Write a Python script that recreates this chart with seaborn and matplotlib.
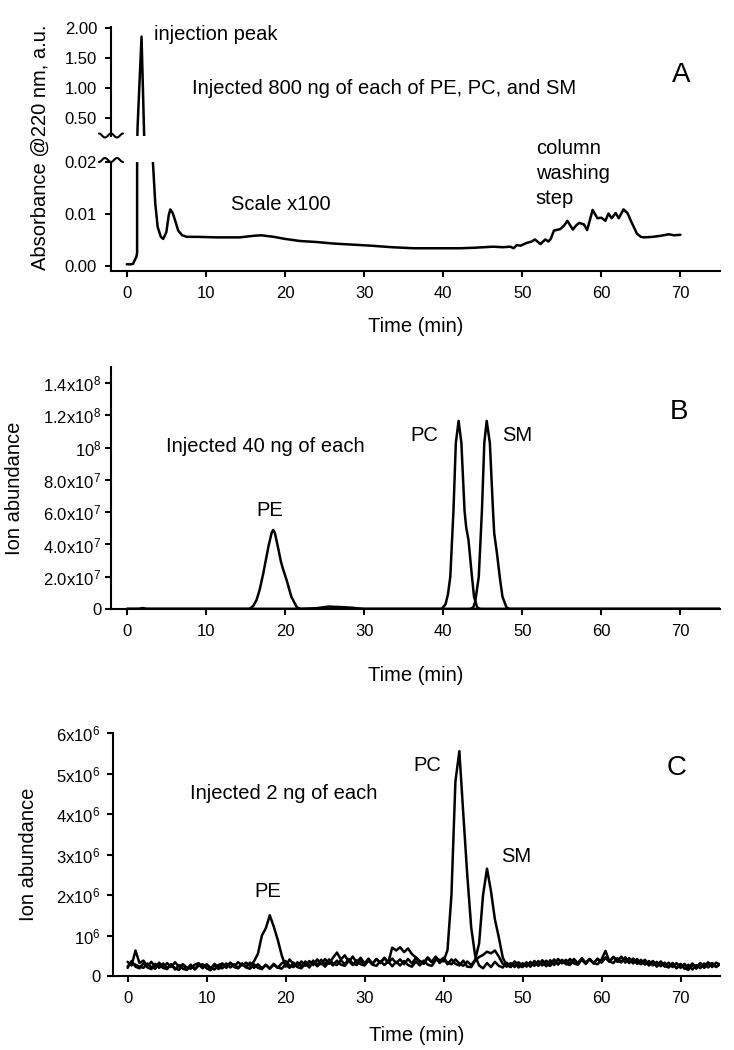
import numpy as np
import matplotlib
matplotlib.use("Agg")
import matplotlib.pyplot as plt
from matplotlib.lines import Line2D
import seaborn as sns

# ---------------- data ----------------
# Panel A: UV trace at 220 nm, 800 ng injection (time in min, absorbance a.u.)
uv_time = [0.0, 0.5, 0.8, 1.0, 1.2, 1.3, 1.36, 1.86, 2.2, 2.8, 3.3, 3.6, 3.9, 4.3, 4.6,
           5.0, 5.3, 5.5, 5.8, 6.1, 6.5, 7.0, 7.6, 9.0, 11.4, 14.3, 16.0, 17.0, 18.6,
           20.0, 21.9, 24.0, 26.2, 28.5, 30.8, 33.5, 36.2, 40.0, 42.2, 44.0, 46.3,
           47.5, 48.5, 48.9, 49.3, 49.8, 50.5, 51.2, 51.6, 52.0, 52.3, 52.9, 53.3,
           53.6, 54.0, 54.8, 55.3, 55.7, 56.4, 56.8, 57.2, 57.8, 58.2, 58.9, 59.5,
           60.0, 60.5, 60.9, 61.3, 61.8, 62.2, 62.8, 63.3, 63.7, 64.1, 64.5, 65.0,
           65.4, 66.5, 67.5, 68.5, 69.2, 70.0]
uv_abs = [0.0003, 0.0003, 0.0004, 0.0011, 0.0017, 0.0025, 0.35, 1.86, 0.17, 0.06,
          0.02, 0.012, 0.0075, 0.0056, 0.0052, 0.0065, 0.0098, 0.0109, 0.0102, 0.0088,
          0.0068, 0.0059, 0.0056, 0.0056, 0.0055, 0.0055, 0.0058, 0.0059, 0.0056,
          0.0052, 0.0048, 0.0046, 0.0043, 0.0041, 0.0039, 0.0036, 0.0034, 0.0034,
          0.0034, 0.0035, 0.0037, 0.0036, 0.0037, 0.0034, 0.0040, 0.0039, 0.0044,
          0.0047, 0.0051, 0.0046, 0.0042, 0.0051, 0.0047, 0.0052, 0.0068, 0.0071,
          0.0078, 0.0087, 0.0070, 0.0078, 0.0083, 0.0080, 0.0069, 0.0108, 0.0092,
          0.0093, 0.0087, 0.0101, 0.0092, 0.0102, 0.0092, 0.0109, 0.0102, 0.0088,
          0.0075, 0.0062, 0.0056, 0.0055, 0.0056, 0.0058, 0.0061, 0.0059, 0.0060]

# Panel B: 40 ng injection, ion traces (ion abundance in units of 1e7)
b_pe_time = [0, 1.5, 2.0, 2.5, 15.5, 16.0, 16.4, 16.8, 17.25, 17.9, 18.3, 18.5, 18.7,
             19.1, 19.5, 19.8, 20.2, 20.8, 21.5, 22.0, 24.0, 25.5, 27.0, 28.5, 30.0, 75]
b_pe_ion = [0, 0, 0.06, 0, 0, 0.2, 0.56, 1.2, 2.2, 3.86, 4.7, 4.9, 4.75,
            3.86, 2.9, 2.4, 1.8, 0.76, 0.1, 0, 0.05, 0.15, 0.12, 0.08, 0, 0]
b_pc_time = [0, 39.8, 40.3, 40.6, 40.9, 41.3, 41.6, 41.95, 42.3, 42.7, 42.9, 43.2,
             43.6, 43.9, 44.3, 44.7, 75]
b_pc_ion = [0, 0, 0.3, 0.9, 2.0, 6.1, 10.3, 11.66, 10.3, 6.1, 5.1, 4.27,
            2.2, 0.76, 0.1, 0, 0]
b_sm_time = [0, 43.4, 43.8, 44.05, 44.5, 44.9, 45.2, 45.5, 45.9, 46.3, 46.45, 46.8,
             47.2, 47.5, 48.0, 48.4, 75]
b_sm_ion = [0, 0, 0.1, 0.45, 2.0, 6.1, 10.3, 11.66, 10.3, 6.1, 4.7, 3.45,
            1.8, 0.76, 0.1, 0, 0]

# Panel C: 2 ng injection, sampled every 0.5 min (ion abundance in units of 1e5)
c_time = np.arange(0, 75.5, 0.5)
c_pe_ion = [3.5, 2.6, 6.3, 3.2, 3.8, 2.4, 3.5, 2.2, 3.3, 2.0,
            3.2, 2.2, 3.4, 2.3, 2.9, 2.1, 1.8, 2.8, 3.2, 2.1,
            2.9, 2.0, 1.6, 2.7, 3.1, 2.3, 3.3, 2.4, 3.4, 2.6,
            3.3, 2.5, 3.6, 5.5, 10.0, 11.8, 15.0, 12.2, 9.0, 5.2,
            2.3, 4.1, 2.9, 2.3, 3.6, 2.5, 3.7, 2.7, 4.1, 2.9,
            4.2, 3.0, 4.5, 5.8, 4.1, 5.1, 3.5, 4.8, 3.3, 4.5,
            3.1, 4.3, 3.0, 4.2, 3.2, 4.4, 3.3, 4.3, 3.2, 4.1,
            2.9, 4.2, 3.1, 4.5, 3.3, 3.0, 4.4, 3.4, 4.6, 3.2,
            4.2, 2.9, 4.1, 3.0, 2.6, 3.8, 2.3, 2.2, 3.8, 4.7,
            5.2, 6.0, 5.6, 6.3, 4.8, 3.0, 2.3, 3.2, 2.2, 3.4,
            2.4, 3.2, 2.3, 3.5, 2.5, 3.6, 2.4, 3.9, 2.7, 4.2,
            3.1, 4.0, 2.9, 4.2, 3.2, 4.4, 3.3, 4.2, 3.1, 4.3,
            3.4, 4.6, 3.6, 4.7, 3.5, 4.8, 3.3, 4.4, 3.1, 4.2,
            2.9, 3.9, 2.7, 3.7, 2.5, 3.6, 2.3, 3.3, 2.2, 3.2,
            2.0, 3.0, 1.9, 3.1, 2.1, 3.2, 2.3, 3.4, 2.2, 3.3,
            2.8]
c_pc_ion = [2.4, 3.2, 2.8, 2.3, 2.0, 3.1, 2.2, 1.8, 3.0, 2.0,
            1.7, 2.9, 1.9, 1.5, 2.7, 1.7, 2.8, 1.6, 2.6, 2.9,
            1.9, 1.4, 2.7, 1.7, 2.9, 2.0, 3.2, 2.2, 1.9, 3.0,
            2.1, 1.8, 2.9, 2.0, 1.7, 2.8, 1.9, 3.0, 2.1, 1.8,
            2.9, 2.0, 3.3, 2.2, 1.9, 3.1, 2.1, 3.5, 2.4, 3.3,
            2.3, 3.6, 2.6, 3.8, 2.8, 2.5, 3.7, 2.7, 3.9, 2.9,
            2.6, 3.8, 2.8, 2.5, 3.7, 2.7, 3.6, 2.4, 3.5, 2.6,
            3.7, 2.7, 2.3, 3.6, 2.6, 3.8, 2.8, 2.5, 3.9, 4.0,
            3.6, 6.4, 20.0, 48.0, 55.5, 40.0, 25.0, 12.0, 5.0, 2.6,
            1.9, 3.2, 2.2, 3.5, 2.5, 2.1, 3.3, 2.3, 3.6, 2.6,
            2.2, 3.4, 2.4, 3.7, 2.7, 3.9, 2.9, 2.5, 3.8, 2.8,
            4.0, 3.0, 2.7, 3.9, 2.9, 4.1, 3.1, 4.2, 3.2, 2.9,
            4.1, 6.2, 3.6, 3.2, 4.4, 3.4, 4.5, 3.3, 4.2, 3.0,
            4.0, 2.8, 3.7, 2.6, 3.5, 2.4, 3.3, 2.2, 3.1, 2.0,
            2.9, 1.8, 2.8, 1.6, 2.7, 1.9, 3.1, 2.1, 3.2, 2.3,
            3.0]
c_sm_ion = [2.0, 3.7, 2.3, 1.9, 3.2, 2.1, 1.7, 3.0, 2.0, 3.1,
            1.9, 2.9, 1.6, 2.7, 1.8, 1.5, 2.6, 1.7, 2.8, 1.9,
            2.8, 1.8, 3.0, 2.1, 1.9, 3.1, 2.1, 2.9, 2.0, 3.1,
            2.2, 3.3, 2.0, 2.9, 1.9, 2.7, 1.8, 2.8, 2.0, 3.1,
            3.7, 2.6, 2.2, 3.4, 2.4, 3.6, 2.6, 3.8, 2.7, 4.0,
            2.9, 4.1, 3.1, 2.7, 3.9, 2.9, 4.2, 3.1, 2.7, 3.8,
            2.8, 4.0, 3.0, 4.2, 3.2, 4.5, 3.3, 7.0, 6.3, 7.1,
            5.9, 6.8, 5.4, 4.6, 3.7, 3.3, 4.6, 3.5, 4.8, 3.6,
            4.5, 3.3, 2.9, 4.1, 3.1, 2.5, 3.6, 2.7, 4.0, 8.0,
            20.0, 26.5, 21.0, 14.0, 9.5, 4.5, 2.7, 2.2, 3.3, 2.1,
            3.2, 2.3, 3.5, 2.5, 3.7, 2.6, 3.8, 2.8, 4.1, 3.0,
            3.9, 2.9, 4.2, 3.1, 2.8, 4.0, 3.0, 4.1, 3.2, 4.2,
            3.3, 4.5, 3.5, 4.7, 3.7, 3.4, 4.6, 3.2, 4.3, 3.3,
            3.0, 4.0, 2.6, 3.6, 2.3, 3.4, 2.5, 2.1, 3.2, 1.9,
            3.0, 2.0, 1.5, 2.8, 1.8, 3.0, 2.0, 2.9, 3.1, 2.2,
            2.9]

time_ticks = [0, 10, 20, 30, 40, 50, 60, 70]
a_top_ticks = [0.5, 1.0, 1.5, 2.0]
a_top_labels = ["0.50", "1.00", "1.50", "2.00"]
a_low_ticks = [0.0, 0.01, 0.02]
a_low_labels = ["0.00", "0.01", "0.02"]
b_ticks = [0, 2e7, 4e7, 6e7, 8e7, 1e8, 1.2e8, 1.4e8]
b_labels = ["0", r"2.0x10$^{7}$", r"4.0x10$^{7}$", r"6.0x10$^{7}$", r"8.0x10$^{7}$",
            r"10$^{8}$", r"1.2x10$^{8}$", r"1.4x10$^{8}$"]
c_ticks = [0, 1e6, 2e6, 3e6, 4e6, 5e6, 6e6]
c_labels = ["0", r"10$^{6}$", r"2x10$^{6}$", r"3x10$^{6}$", r"4x10$^{6}$",
            r"5x10$^{6}$", r"6x10$^{6}$"]

# ---------------- style ----------------
sns.set_style("ticks")
plt.rcParams['font.family'] = ['Liberation Sans', 'DejaVu Sans']
plt.rcParams['mathtext.fontset'] = 'custom'
plt.rcParams['mathtext.rm'] = 'Liberation Sans'
plt.rcParams['mathtext.it'] = 'Liberation Sans:italic'
plt.rcParams['mathtext.bf'] = 'Liberation Sans:bold'
plt.rcParams['text.color'] = 'black'
plt.rcParams['axes.labelcolor'] = 'black'
plt.rcParams['xtick.color'] = 'black'
plt.rcParams['ytick.color'] = 'black'

W, H = 734, 1050
LW = 1.8
LABEL_FS = 14.5
TICK_FS = 12

fig = plt.figure(figsize=(W / 100, H / 100), dpi=100)
fig.patch.set_facecolor('white')


def box(left, top, right, bottom):
    """Axes rectangle from pixel edges (origin top-left)."""
    return [left / W, 1 - bottom / H, (right - left) / W, (bottom - top) / H]


def style_axes(ax, ypad):
    for side in ['top', 'right']:
        ax.spines[side].set_visible(False)
    for side in ['left', 'bottom']:
        ax.spines[side].set_linewidth(1.5)
        ax.spines[side].set_color('black')
    ax.tick_params(axis='both', direction='out', length=4.5, width=1.5,
                   color='black', labelsize=TICK_FS, labelcolor='black')
    ax.tick_params(axis='y', pad=ypad)
    ax.tick_params(axis='x', pad=6.5)
    ax.set_xlim(-2, 75)
    ax.set_xticks(time_ticks)
    ax.grid(False)
    ax.set_facecolor('none')


def trace(ax, x, y):
    sns.lineplot(x=x, y=y, ax=ax, color='black', linewidth=LW,
                 estimator=None, sort=False, legend=False)


# ---- Panel A (broken y axis) ----
ax_at = fig.add_axes(box(111, 27, 720, 136))
ax_al = fig.add_axes(box(111, 162, 720, 270.5))
for ax in (ax_at, ax_al):
    trace(ax, uv_time, uv_abs)
    style_axes(ax, ypad=5.5)
ax_at.set_ylim(0.20, 2.02)
ax_at.set_yticks(a_top_ticks)
ax_at.set_yticklabels(a_top_labels)
ax_at.spines['bottom'].set_visible(False)
ax_at.tick_params(axis='x', bottom=False, labelbottom=False)
ax_al.set_ylim(-0.0009, 0.02006)
ax_al.set_yticks(a_low_ticks)
ax_al.set_yticklabels(a_low_labels)
ax_al.set_xlabel("Time (min)", fontsize=LABEL_FS, labelpad=12)

# break marks on the y axis
wave_x = np.linspace(-12, 12, 60)
wave = np.cos(2 * np.pi * wave_x / 12)
fig.add_artist(Line2D((111 + wave_x) / W, 1 - (135.5 - 2 * wave) / H,
                      color='black', lw=1.5))
fig.add_artist(Line2D((111 + wave_x) / W, 1 - (160 + 2 * wave) / H,
                      color='black', lw=1.5))

ax_at.text(3.5, 1.80, "injection peak", fontsize=LABEL_FS, va='baseline')
ax_at.text(8.3, 0.905, "Injected 800 ng of each of PE, PC, and SM",
           fontsize=LABEL_FS, va='baseline')
ax_at.text(68.9, 1.11, "A", fontsize=20, va='baseline')
ax_al.text(13.2, 0.01077, "Scale x100", fontsize=LABEL_FS, va='baseline')
ax_al.text(51.7, 0.0119, "column\nwashing\nstep", fontsize=LABEL_FS,
           va='baseline', linespacing=1.4, clip_on=False)
fig.text(40 / W, 1 - 147 / H, "Absorbance @220 nm, a.u.", rotation=90,
         ha='center', va='center', fontsize=LABEL_FS)

# ---- Panel B ----
ax_b = fig.add_axes(box(111, 367, 720, 609))
trace(ax_b, b_pe_time, np.array(b_pe_ion) * 1e7)
trace(ax_b, b_pc_time, np.array(b_pc_ion) * 1e7)
trace(ax_b, b_sm_time, np.array(b_sm_ion) * 1e7)
style_axes(ax_b, ypad=2.5)
ax_b.set_ylim(0, 1.5e8)
ax_b.set_yticks(b_ticks)
ax_b.set_yticklabels(b_labels)
ax_b.set_xlabel("Time (min)", fontsize=LABEL_FS, labelpad=19)
ax_b.text(4.9, 9.74e7, "Injected 40 ng of each", fontsize=LABEL_FS, va='baseline')
ax_b.text(16.4, 5.78e7, "PE", fontsize=LABEL_FS, va='baseline')
ax_b.text(35.8, 1.04e8, "PC", fontsize=LABEL_FS, va='baseline')
ax_b.text(47.4, 1.04e8, "SM", fontsize=LABEL_FS, va='baseline')
ax_b.text(68.7, 1.175e8, "B", fontsize=20, va='baseline')
fig.text(15 / W, 1 - 488 / H, "Ion abundance", rotation=90,
         ha='center', va='center', fontsize=LABEL_FS)

# ---- Panel C ----
ax_c = fig.add_axes(box(113, 733, 720, 976))
trace(ax_c, c_time, np.array(c_pe_ion) * 1e5)
trace(ax_c, c_time, np.array(c_pc_ion) * 1e5)
trace(ax_c, c_time, np.array(c_sm_ion) * 1e5)
style_axes(ax_c, ypad=4.5)
ax_c.set_xlim(-1.85, 75)
ax_c.set_ylim(0, 6e6)
ax_c.set_yticks(c_ticks)
ax_c.set_yticklabels(c_labels)
ax_c.set_xlabel("Time (min)", fontsize=LABEL_FS, labelpad=14)
ax_c.text(7.9, 4.37e6, "Injected 2 ng of each", fontsize=LABEL_FS, va='baseline')
ax_c.text(16.0, 1.96e6, "PE", fontsize=LABEL_FS, va='baseline')
ax_c.text(36.2, 5.06e6, "PC", fontsize=LABEL_FS, va='baseline')
ax_c.text(47.3, 2.81e6, "SM", fontsize=LABEL_FS, va='baseline')
ax_c.text(68.3, 4.96e6, "C", fontsize=20, va='baseline')
fig.text(29 / W, 1 - 854 / H, "Ion abundance", rotation=90,
         ha='center', va='center', fontsize=LABEL_FS)

fig.savefig("out.png", dpi=100, facecolor='white')
plt.close(fig)
